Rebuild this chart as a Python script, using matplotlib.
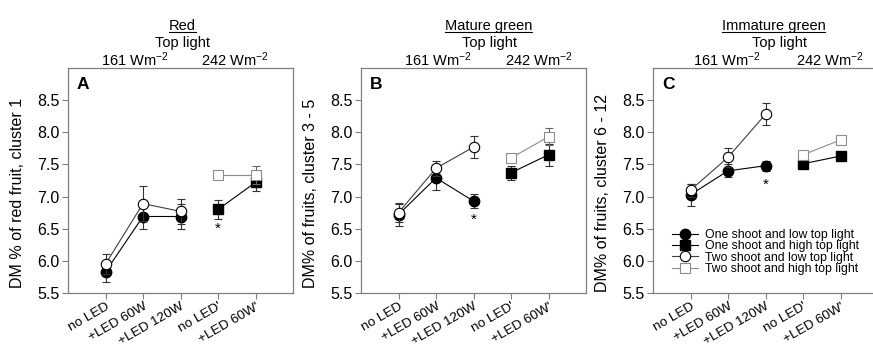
import numpy as np
import matplotlib
matplotlib.use("Agg")
import matplotlib.pyplot as plt
from matplotlib.lines import Line2D

# ===== data =====
categories = ["no LED", "+LED 60W", "+LED 120W", "no LED'", "+LED 60W'"]
x_low = [0, 1, 2]      # 161 Wm-2 top light
x_high = [3, 4]        # 242 Wm-2 top light

# panel A: red fruit, cluster 1
a_one_low = [5.83, 6.69, 6.69]
a_one_low_err = [0.16, 0.20, 0.19]
a_two_low = [5.95, 6.89, 6.77]
a_two_low_err = [0.15, 0.27, 0.20]
a_one_high = [6.80, 7.22]
a_one_high_err = [0.15, 0.13]
a_two_high = [7.33, 7.33]
a_two_high_err = [0.06, 0.14]

# panel B: mature green, cluster 3 - 5
b_one_low = [6.72, 7.29, 6.93]
b_one_low_err = [0.17, 0.18, 0.11]
b_two_low = [6.75, 7.44, 7.77]
b_two_low_err = [0.15, 0.12, 0.17]
b_one_high = [7.37, 7.65]
b_one_high_err = [0.11, 0.17]
b_two_high = [7.60, 7.93]
b_two_high_err = [0.05, 0.13]

# panel C: immature green, cluster 6 - 12
c_one_low = [7.03, 7.40, 7.48]
c_one_low_err = [0.17, 0.10, 0.08]
c_two_low = [7.10, 7.61, 8.28]
c_two_low_err = [0.10, 0.15, 0.17]
c_one_high = [7.51, 7.63]
c_one_high_err = [0.03, 0.03]
c_two_high = [7.65, 7.88]
c_two_high_err = [0.03, 0.03]

# significance stars (x position, y position)
stars = {"A": (3, 6.50), "B": (2, 6.64), "C": (2, 7.19)}

legend_labels = ["One shoot and low top light", "One shoot and high top light",
                 "Two shoot and low top light", "Two shoot and high top light"]

# ===== style =====
plt.rcParams.update({
    "font.family": ["Liberation Sans", "DejaVu Sans"],
    "mathtext.fontset": "custom",
    "mathtext.rm": "Liberation Sans",
    "mathtext.it": "Liberation Sans:italic",
    "mathtext.bf": "Liberation Sans:bold",
})
spine_grey = "#7f7f7f"
light_grey = "#8c8c8c"

fig = plt.figure(figsize=(8.73, 3.47), dpi=100)
W, H = 873.0, 347.0
lefts = [68, 361, 653]
ax_w, ax_h, ax_bottom = 225, 225, 54

panels = [
    dict(letter="A", title="Red", ylabel="DM % of red fruit, cluster 1",
         data=(a_one_low, a_one_low_err, a_one_high, a_one_high_err,
               a_two_low, a_two_low_err, a_two_high, a_two_high_err),
         tx=0.51, topx=0.51, x161=0.298, x242=0.742),
    dict(letter="B", title="Mature green", ylabel="DM% of fruits, cluster 3 - 5",
         data=(b_one_low, b_one_low_err, b_one_high, b_one_high_err,
               b_two_low, b_two_low_err, b_two_high, b_two_high_err),
         tx=0.567, topx=0.57, x161=0.34, x242=0.79),
    dict(letter="C", title="Immature green", ylabel="DM% of fruits, cluster 6 - 12",
         data=(c_one_low, c_one_low_err, c_one_high, c_one_high_err,
               c_two_low, c_two_low_err, c_two_high, c_two_high_err),
         tx=0.536, topx=0.562, x161=0.328, x242=0.787),
]

title_texts = []
for left, p in zip(lefts, panels):
    ax = fig.add_axes([left / W, ax_bottom / H, ax_w / W, ax_h / H])
    ol, ole, oh, ohe, tl, tle, th, the = p["data"]

    eb = dict(capsize=3, elinewidth=0.8, capthick=0.8, ecolor="#333333")
    h1 = ax.errorbar(x_low, ol, yerr=ole, color="black", lw=0.8, marker="o",
                     ms=7.5, mfc="black", mec="black", zorder=3, **eb)
    h2 = ax.errorbar(x_high, oh, yerr=ohe, color="black", lw=0.8, marker="s",
                     ms=6.5, mfc="black", mec="black", zorder=3, **eb)
    h3 = ax.errorbar(x_low, tl, yerr=tle, color="#404040", lw=0.8, marker="o",
                     ms=7.5, mfc="white", mec="black", mew=0.8, zorder=4, **eb)
    h4 = ax.errorbar(x_high, th, yerr=the, color=light_grey, lw=0.8, marker="s",
                     ms=6.5, mfc="white", mec=light_grey, mew=0.8, zorder=4,
                     capsize=3, elinewidth=0.8, capthick=0.8, ecolor="#666666")

    sx, sy = stars[p["letter"]]
    ax.text(sx, sy, "*", ha="center", va="center", fontsize=11)

    ax.set_xlim(-1, 5)
    ax.set_ylim(5.5, 9.0)
    ax.set_yticks(np.arange(5.5, 8.51, 0.5))
    ax.set_yticklabels([f"{v:.1f}" for v in np.arange(5.5, 8.51, 0.5)], fontsize=11.5)
    ax.set_xticks(range(len(categories)))
    ax.set_xticklabels(categories, rotation=30, ha="right", rotation_mode="anchor",
                       fontsize=9.7)
    ax.tick_params(direction="out", length=4, width=0.8, color=spine_grey, pad=2)
    ax.tick_params(axis="x", pad=1.5)
    for s in ax.spines.values():
        s.set_color(spine_grey)
        s.set_linewidth(0.9)

    ax.set_ylabel(p["ylabel"], fontsize=11.5)
    ax.yaxis.set_label_coords(-0.19, 0.445)

    ax.text(0.04, 0.905, p["letter"], transform=ax.transAxes, fontsize=12.5,
            fontweight="bold", va="baseline", ha="left")

    t = ax.text(p["tx"], 1.171, p["title"], transform=ax.transAxes, fontsize=10.5,
                ha="center", va="baseline")
    title_texts.append((ax, t))
    ax.text(p["topx"], 1.092, "Top light", transform=ax.transAxes, fontsize=10.5,
            ha="center", va="baseline")
    ax.text(p["x161"], 1.008, r"161 Wm$^{-2}$", transform=ax.transAxes,
            fontsize=10.5, ha="center", va="baseline")
    ax.text(p["x242"], 1.008, r"242 Wm$^{-2}$", transform=ax.transAxes,
            fontsize=10.5, ha="center", va="baseline")

    if p["letter"] == "C":
        ax.legend([h1[0], h2[0], h3[0], h4[0]], legend_labels, loc="center left",
                  bbox_to_anchor=(0.084, 0.182), frameon=False, fontsize=8.8,
                  borderpad=0, borderaxespad=0, labelspacing=-0.05,
                  handlelength=2.1, handletextpad=0.6)

# underline panel titles
fig.canvas.draw()
renderer = fig.canvas.get_renderer()
for ax, t in title_texts:
    bb = t.get_window_extent(renderer)
    base = ax.transAxes.transform((0, t.get_position()[1]))[1]
    y = (base - 2.0) / H
    fig.add_artist(Line2D([bb.x0 / W, bb.x1 / W], [y, y], color="black", lw=0.8))

fig.savefig("out.png", dpi=100)
